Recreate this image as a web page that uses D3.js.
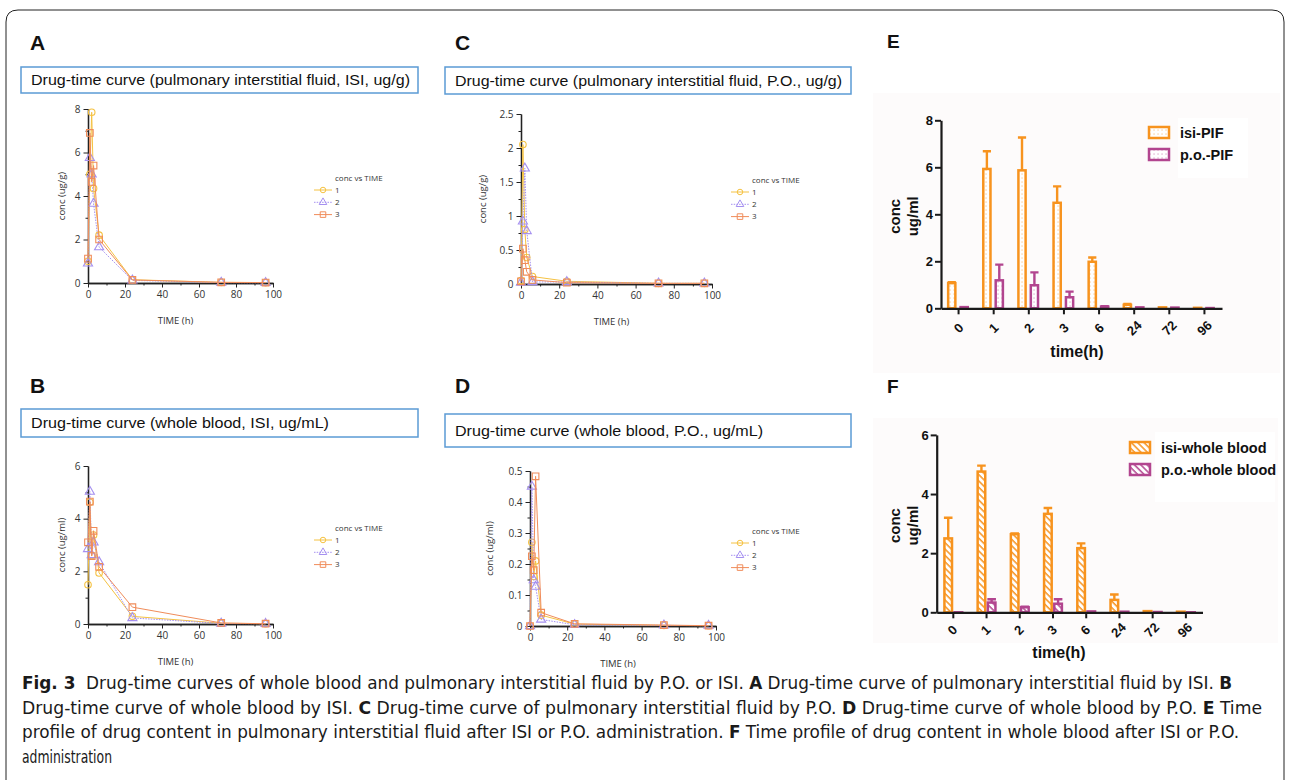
<!DOCTYPE html>
<html>
<head>
<meta charset="utf-8">
<script src="https://cdn.jsdelivr.net/npm/d3@7"></script>
<style>
  body { margin: 0; background: #fff; }
  svg { display: block; }
</style>
</head>
<body>
<svg id="fig" width="1290" height="780"></svg>
<script>
// sampling times (h)
var times = [0, 1, 2, 3, 6, 24, 72, 96];
var timeLabels = ["0", "1", "2", "3", "6", "24", "72", "96"];
var seriesNames = ["1", "2", "3"];

// A: pulmonary interstitial fluid, ISI (ug/g)
var pifIsi1 = [1.0, 5.0, 7.85, 4.35, 2.2, 0.15, 0.03, 0.02];
var pifIsi2 = [0.9, 5.75, 5.0, 3.65, 1.65, 0.12, 0.02, 0.01];
var pifIsi3 = [1.12, 6.9, 4.65, 5.4, 2.0, 0.14, 0.03, 0.02];

// B: whole blood, ISI (ug/mL)
var wbIsi1 = [1.49, 4.62, 2.6, 3.38, 1.94, 0.29, 0.03, 0.01];
var wbIsi2 = [2.85, 5.03, 2.62, 3.1, 2.35, 0.23, 0.02, 0.01];
var wbIsi3 = [3.1, 4.65, 2.58, 3.54, 2.17, 0.64, 0.04, 0.01];

// C: pulmonary interstitial fluid, P.O. (ug/g)
var pifPo1 = [0.05, 2.05, 0.8, 0.39, 0.11, 0.04, 0.01, 0.01];
var pifPo2 = [0.02, 0.92, 1.7, 0.78, 0.03, 0.03, 0.01, 0.01];
var pifPo3 = [0.04, 0.52, 0.35, 0.18, 0.06, 0.02, 0.01, 0.01];

// D: whole blood, P.O. (ug/mL)
var wbPo1 = [0, 0.27, 0.16, 0.21, 0.035, 0.006, 0.002, 0.001];
var wbPo2 = [0, 0.45, 0.148, 0.127, 0.021, 0.004, 0.002, 0.001];
var wbPo3 = [0, 0.225, 0.18, 0.483, 0.043, 0.007, 0.003, 0.001];

// E: bar means and upper errors
var isiPifMean = [1.07, 5.93, 5.87, 4.49, 1.98, 0.15, 0.04, 0.02];
var isiPifErr  = [0.04, 0.75, 1.4, 0.7, 0.18, 0.03, 0.01, 0];
var poPifMean  = [0.05, 1.19, 0.98, 0.47, 0.07, 0.04, 0.03, 0.01];
var poPifErr   = [0.01, 0.67, 0.55, 0.24, 0.02, 0.01, 0.01, 0];

// F
var isiWbMean = [2.5, 4.76, 2.64, 3.33, 2.17, 0.42, 0.04, 0.02];
var isiWbErr  = [0.7, 0.2, 0.03, 0.2, 0.16, 0.18, 0.01, 0];
var poWbMean  = [0, 0.33, 0.17, 0.29, 0.03, 0.02, 0.01, 0];
var poWbErr   = [0, 0.11, 0.02, 0.15, 0.01, 0, 0, 0];

var svg = d3.select("#fig");
var ORANGE = "#f7931e", PURPLE = "#b2458f";
var lineColors = ["#f5c242", "#a590f0", "#f08c5a"];

// outer frame
svg.append("path")
  .attr("d", "M6,780 L6,22 Q6,10 18,10 L1272,10 Q1284,10 1284,22 L1284,780")
  .attr("fill", "none").attr("stroke", "#222").attr("stroke-width", 1);

// patterns
var defs = svg.append("defs");
function dotPattern(id, col) {
  var p = defs.append("pattern").attr("id", id).attr("width", 4).attr("height", 4)
    .attr("patternUnits", "userSpaceOnUse");
  p.append("rect").attr("width", 4).attr("height", 4).attr("fill", "#fff");
  p.append("rect").attr("x", 1.5).attr("y", 1.5).attr("width", 1.1).attr("height", 1.1)
    .attr("fill", col).attr("opacity", 0.6);
}
function hatchPattern(id, col) {
  var p = defs.append("pattern").attr("id", id).attr("width", 4.5).attr("height", 4.5)
    .attr("patternUnits", "userSpaceOnUse").attr("patternTransform", "rotate(-45)");
  p.append("rect").attr("width", 4.5).attr("height", 4.5).attr("fill", "#fff");
  p.append("line").attr("x1", 1).attr("y1", 0).attr("x2", 1).attr("y2", 4.5)
    .attr("stroke", col).attr("stroke-width", 1.5);
}
dotPattern("dotO", ORANGE); dotPattern("dotP", PURPLE);
hatchPattern("hatchO", ORANGE); hatchPattern("hatchP", PURPLE);

// panel letters
function letter(t, x, y, size) {
  svg.append("text").attr("x", x).attr("y", y).text(t)
    .attr("font-family", "Arial, 'Liberation Sans', sans-serif")
    .attr("font-weight", "bold").attr("font-size", size).attr("fill", "#111");
}
letter("A", 30, 50, 21); letter("C", 455, 50, 21);
letter("B", 30, 393, 21); letter("D", 455, 393, 21);
letter("E", 887, 48, 19); letter("F", 887, 393, 19);

// title boxes
function titleBox(t, x, y, w, h, tl) {
  svg.append("rect").attr("x", x).attr("y", y).attr("width", w).attr("height", h)
    .attr("fill", "#fff").attr("stroke", "#5b9bd5").attr("stroke-width", 1.5);
  svg.append("text").attr("x", x + 10).attr("y", y + h / 2).attr("dy", "0.35em").text(t)
    .attr("font-family", "Arial, 'Liberation Sans', sans-serif").attr("font-size", 15)
    .attr("textLength", tl).attr("lengthAdjust", "spacingAndGlyphs").attr("fill", "#111");
}
titleBox("Drug-time curve (pulmonary interstitial fluid, ISI, ug/g)", 21, 67, 397, 26, 379);
titleBox("Drug-time curve (pulmonary interstitial fluid, P.O., ug/g)", 445, 67, 406, 27, 387);
titleBox("Drug-time curve (whole blood, ISI, ug/mL)", 21, 409, 397, 28, 298);
titleBox("Drug-time curve (whole blood, P.O., ug/mL)", 445, 414, 406, 33, 308);

var smallFont = "'Open Sans', 'DejaVu Sans', sans-serif";

function styleAxis(g) {
  g.select(".domain").attr("stroke", "#222").attr("stroke-width", 1.3);
  g.selectAll(".tick line").attr("stroke", "#222");
  g.selectAll(".tick text").attr("font-family", smallFont).attr("font-size", 10).attr("fill", "#333");
}

function linePanel(cfg) {
  var x = d3.scaleLinear().domain([0, 100]).range([cfg.x0, cfg.x1]);
  var y = d3.scaleLinear().domain([0, cfg.ymax]).range([cfg.y0, cfg.y1]);
  var g = svg.append("g");
  var fmt = function(d) { return String(+d.toFixed(2)); };

  g.append("g").attr("transform", "translate(0," + cfg.y0 + ")")
    .call(d3.axisBottom(x).tickValues([10, 30, 50, 70, 90]).tickSize(2.5).tickSizeOuter(0).tickFormat(""))
    .call(styleAxis);
  g.append("g").attr("transform", "translate(0," + cfg.y0 + ")")
    .call(d3.axisBottom(x).tickValues([0, 20, 40, 60, 80, 100]).tickSize(4.5).tickSizeOuter(0).tickFormat(fmt))
    .call(styleAxis);
  var majors = d3.range(0, cfg.ymax + 1e-9, cfg.ystep);
  var minors = d3.range(cfg.ystep / 2, cfg.ymax, cfg.ystep);
  g.append("g").attr("transform", "translate(" + cfg.x0 + ",0)")
    .call(d3.axisLeft(y).tickValues(minors).tickSize(2.5).tickSizeOuter(0).tickFormat(""))
    .call(styleAxis);
  g.append("g").attr("transform", "translate(" + cfg.x0 + ",0)")
    .call(d3.axisLeft(y).tickValues(majors).tickSize(4.5).tickSizeOuter(0).tickFormat(fmt))
    .call(styleAxis);

  g.append("text").attr("x", (cfg.x0 + cfg.x1) / 2 - 5).attr("y", cfg.y0 + 41).attr("text-anchor", "middle")
    .attr("font-family", smallFont).attr("font-size", 9.5).attr("fill", "#333").text("TIME (h)");
  g.append("text").attr("transform", "translate(" + cfg.ylx + "," + (cfg.y0 + cfg.y1) / 2 + ") rotate(-90)")
    .attr("text-anchor", "middle").attr("dy", "0.35em")
    .attr("font-family", smallFont).attr("font-size", 9.5).attr("fill", "#333").text(cfg.ylabel);

  var line = d3.line().x(function(d) { return x(d[0]); }).y(function(d) { return y(d[1]); });
  var dash = [null, "1.5,1.2", null];
  var symbols = [d3.symbolCircle, d3.symbolTriangle, d3.symbolSquare];
  var sizes = [34, 36, 44];
  cfg.series.forEach(function(vals, i) {
    var pts = times.map(function(t, k) { return [t, vals[k]]; });
    g.append("path").attr("d", line(pts)).attr("fill", "none")
      .attr("stroke", lineColors[i]).attr("stroke-width", 1)
      .attr("stroke-dasharray", dash[i]);
    g.selectAll(null).data(pts).enter().append("path")
      .attr("transform", function(d) { return "translate(" + x(d[0]) + "," + y(d[1]) + ")"; })
      .attr("d", d3.symbol().type(symbols[i]).size(sizes[i]))
      .attr("fill", "none").attr("stroke", lineColors[i]).attr("stroke-width", 1.1);
  });

  // legend
  var lg = g.append("g").attr("transform", "translate(" + cfg.lx + "," + cfg.ly + ")");
  lg.append("text").attr("x", 21).attr("y", 0).attr("dy", "0.35em").text("conc vs TIME")
    .attr("font-family", smallFont).attr("font-size", 8).attr("fill", "#333");
  seriesNames.forEach(function(n, i) {
    var yy = 12 + i * 12.3;
    lg.append("line").attr("x1", 0).attr("x2", 18).attr("y1", yy).attr("y2", yy)
      .attr("stroke", lineColors[i]).attr("stroke-width", 1).attr("stroke-dasharray", dash[i]);
    lg.append("path").attr("transform", "translate(9," + yy + ")")
      .attr("d", d3.symbol().type(symbols[i]).size(sizes[i] * 0.7))
      .attr("fill", "none").attr("stroke", lineColors[i]).attr("stroke-width", 1);
    lg.append("text").attr("x", 21).attr("y", yy).attr("dy", "0.35em").text(n)
      .attr("font-family", smallFont).attr("font-size", 8).attr("fill", "#333");
  });
}

linePanel({ x0: 88, x1: 273, y0: 283, y1: 109, ymax: 8, ystep: 2, ylx: 62, ylabel: "conc (ug/g)",
  series: [pifIsi1, pifIsi2, pifIsi3], lx: 314, ly: 178 });
linePanel({ x0: 88, x1: 273, y0: 624, y1: 466, ymax: 6, ystep: 2, ylx: 62, ylabel: "conc (ug/ml)",
  series: [wbIsi1, wbIsi2, wbIsi3], lx: 314, ly: 528 });
linePanel({ x0: 521, x1: 712, y0: 284, y1: 114, ymax: 2.5, ystep: 0.5, ylx: 483, ylabel: "conc (ug/g)",
  series: [pifPo1, pifPo2, pifPo3], lx: 731, ly: 180 });
linePanel({ x0: 530, x1: 716, y0: 626, y1: 471, ymax: 0.5, ystep: 0.1, ylx: 490, ylabel: "conc (ug/ml)",
  series: [wbPo1, wbPo2, wbPo3], lx: 731, ly: 531 });

// bar panels
var boldFont = "Arial, 'Liberation Sans', Helvetica, sans-serif";
function barPanel(cfg) {
  var g = svg.append("g");
  g.append("rect").attr("x", cfg.bg[0]).attr("y", cfg.bg[1]).attr("width", cfg.bg[2]).attr("height", cfg.bg[3])
    .attr("fill", "#fdfbfb");
  var x = d3.scaleBand().domain(timeLabels).range([cfg.x0, cfg.x1]);
  var y = d3.scaleLinear().domain([0, cfg.ymax]).range([cfg.y0, cfg.y1]);
  var c = function(k) { return x(timeLabels[k]) + x.bandwidth() / 2; };

  var groups = [
    { mean: cfg.m1, err: cfg.e1, col: ORANGE, fill: cfg.f1, off: cfg.off1 },
    { mean: cfg.m2, err: cfg.e2, col: PURPLE, fill: cfg.f2, off: cfg.off2 }
  ];
  groups.forEach(function(s) {
    var idx = d3.range(times.length);
    // error bars (upper only)
    g.selectAll(null).data(idx.filter(function(k) { return s.err[k] > 0.015; })).enter().append("path")
      .attr("d", function(k) {
        var bx = c(k) + s.off + cfg.bw / 2, top = y(s.mean[k] + s.err[k]);
        return "M" + bx + "," + y(s.mean[k]) + "V" + top + "M" + (bx - cfg.bw / 2 - 0.5) + "," + top + "H" + (bx + cfg.bw / 2 + 0.5);
      })
      .attr("fill", "none").attr("stroke", s.col).attr("stroke-width", 2.4);
    g.selectAll(null).data(idx).enter().append("rect")
      .attr("x", function(k) { return c(k) + s.off; })
      .attr("y", function(k) { return y(s.mean[k]); })
      .attr("width", cfg.bw)
      .attr("height", function(k) { return Math.max(0.01, cfg.y0 - y(s.mean[k])); })
      .attr("fill", "url(#" + s.fill + ")").attr("stroke", s.col).attr("stroke-width", 2.5);
  });

  // axes
  var ya = g.append("g").attr("transform", "translate(" + cfg.x0 + ",0)")
    .call(d3.axisLeft(y).tickValues(d3.range(0, cfg.ymax + 1e-9, 2)).tickFormat(d3.format("d"))
      .tickSize(6).tickSizeOuter(0).tickPadding(2));
  var xa = g.append("g").attr("transform", "translate(0," + cfg.y0 + ")")
    .call(d3.axisBottom(x).tickSize(6).tickSizeOuter(0).tickFormat(""));
  [ya, xa].forEach(function(a) {
    a.select(".domain").attr("stroke", "#1a1a1a").attr("stroke-width", 2.2);
    a.selectAll(".tick line").attr("stroke", "#1a1a1a").attr("stroke-width", 2);
  });
  ya.selectAll(".tick text").attr("font-family", boldFont).attr("font-weight", "bold")
    .attr("font-size", 13).attr("fill", "#111");
  g.selectAll(null).data(timeLabels).enter().append("text")
    .attr("transform", function(d) { return "translate(" + (x(d) + x.bandwidth() / 2 + cfg.lbdx) + "," + cfg.lby + ") rotate(-45)"; })
    .attr("text-anchor", "middle").attr("dy", "0.35em")
    .attr("font-family", boldFont).attr("font-weight", "bold").attr("font-size", 13).attr("fill", "#111")
    .text(function(d) { return d; });
  g.append("text").attr("x", cfg.tx).attr("y", cfg.ty).attr("text-anchor", "middle")
    .attr("font-family", boldFont).attr("font-weight", "bold").attr("font-size", 16).attr("fill", "#111")
    .text("time(h)");
  var ymid = (cfg.y0 + cfg.y1) / 2 + 2;
  g.append("text").attr("transform", "translate(895," + ymid + ") rotate(-90)").attr("text-anchor", "middle")
    .attr("dy", "0.35em").attr("font-family", boldFont).attr("font-weight", "bold").attr("font-size", 15)
    .attr("fill", "#111").text("conc");
  g.append("text").attr("transform", "translate(913," + ymid + ") rotate(-90)").attr("text-anchor", "middle")
    .attr("dy", "0.35em").attr("font-family", boldFont).attr("font-weight", "bold").attr("font-size", 15)
    .attr("fill", "#111").text("ug/ml");

  // legend
  var lg = g.append("g");
  lg.append("rect").attr("x", cfg.lgbg[0]).attr("y", cfg.lgbg[1]).attr("width", cfg.lgbg[2]).attr("height", cfg.lgbg[3])
    .attr("fill", "#fff");
  groups.forEach(function(s, i) {
    var yy = cfg.ly + i * 22;
    lg.append("rect").attr("x", cfg.lx).attr("y", yy - 5.5).attr("width", 20).attr("height", 11)
      .attr("fill", "url(#" + s.fill + ")").attr("stroke", s.col).attr("stroke-width", 2.5);
    lg.append("text").attr("x", cfg.lx + 31).attr("y", yy).attr("dy", "0.36em").text(cfg.names[i])
      .attr("font-family", boldFont).attr("font-weight", "bold").attr("font-size", 14.5).attr("fill", "#111");
  });
}

barPanel({ x0: 941, x1: 1222, y0: 308.3, y1: 120.3, ymax: 8, bw: 7.2, off1: -10.4, off2: 2,
  m1: isiPifMean, e1: isiPifErr, m2: poPifMean, e2: poPifErr, f1: "dotO", f2: "dotP",
  lbdx: 0, lby: 328, tx: 1077, ty: 357, bg: [873, 93, 407, 280],
  lgbg: [1178, 118, 70, 60], lx: 1149, ly: 132.5, names: ["isi-PIF", "p.o.-PIF"] });
barPanel({ x0: 936.7, x1: 1202.5, y0: 612.3, y1: 434.9, ymax: 6, bw: 7.6, off1: -8.9, off2: 1.3,
  m1: isiWbMean, e1: isiWbErr, m2: poWbMean, e2: poWbErr, f1: "hatchO", f2: "hatchP",
  lbdx: -1, lby: 630, tx: 1059, ty: 658, bg: [873, 418, 405, 225],
  lgbg: [1155, 432, 120, 70], lx: 1130, ly: 447.5, names: ["isi-whole blood", "p.o.-whole blood"] });

// caption
var capFont = "'DejaVu Sans Condensed', 'Liberation Sans Narrow', sans-serif";
var captionLines = [
  { y: 689, w: 1210, parts: [["Fig. 3", 1], ["  Drug-time curves of whole blood and pulmonary interstitial fluid by P.O. or ISI. ", 0],
      ["A", 1], [" Drug-time curve of pulmonary interstitial fluid by ISI. ", 0], ["B", 1]] },
  { y: 713.5, w: 1240, parts: [["Drug-time curve of whole blood by ISI. ", 0], ["C", 1],
      [" Drug-time curve of pulmonary interstitial fluid by P.O. ", 0], ["D", 1],
      [" Drug-time curve of whole blood by P.O. ", 0], ["E", 1], [" Time", 0]] },
  { y: 738, w: 1217, parts: [["profile of drug content in pulmonary interstitial fluid after ISI or P.O. administration. ", 0],
      ["F", 1], [" Time profile of drug content in whole blood after ISI or P.O.", 0]] },
  { y: 762.5, w: 90, parts: [["administration", 0]] }
];
captionLines.forEach(function(ln) {
  var t = svg.append("text").attr("x", 22).attr("y", ln.y)
    .attr("font-family", capFont).attr("font-stretch", "condensed").attr("font-size", 17).attr("fill", "#1a1a1a")
    .attr("textLength", ln.w).attr("lengthAdjust", "spacingAndGlyphs")
    .style("white-space", "pre");
  ln.parts.forEach(function(p) {
    t.append("tspan").attr("font-weight", p[1] ? "bold" : "normal").text(p[0]);
  });
});
</script>
</body>
</html>
